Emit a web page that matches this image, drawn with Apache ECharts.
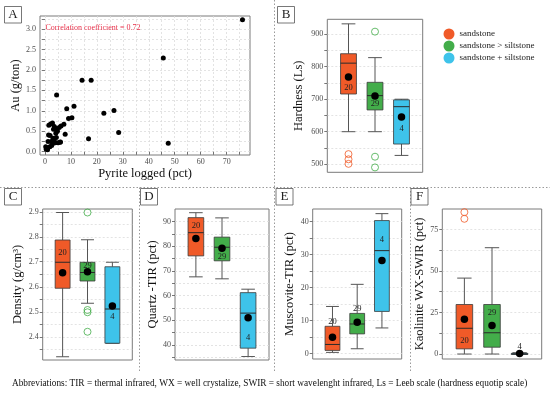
<!DOCTYPE html>
<html><head><meta charset="utf-8">
<script src="https://cdn.jsdelivr.net/npm/echarts@6/dist/echarts.min.js"></script>
<style>html,body{margin:0;padding:0;background:#fff}#c{width:550px;height:395px}</style>
</head><body><div id="c"></div><script>
const SERIF = 'Liberation Serif';
const groups = ['sandstone', 'sandstone > siltstone', 'sandstone + siltstone'];
const groupColors = ['#f05a28', '#43ad4a', '#3ec3ea'];

// Panel A: Au vs pyrite
const pyrite = [0.3,0.5,0.8,1.0,1.2,1.4,1.5,1.9,2.0,2.2,2.4,2.6,2.9,3.0,3.1,3.3,3.5,3.6,3.9,4.0,4.2,4.4,4.5,4.6,4.8,5.0,5.5,5.8,6.0,6.2,7.3,7.8,8.4,9.1,10.4,11.2,14.3,16.8,17.8,22.7,26.6,28.4,45.6,47.5,76.1];
const au     = [0.12,0.06,0.10,0.05,0.25,0.41,0.65,0.12,0.40,0.68,0.25,0.15,0.70,0.20,0.33,0.55,0.28,0.62,0.58,0.22,0.45,0.35,1.39,0.52,0.50,0.22,0.59,0.23,0.24,0.63,0.67,0.43,1.05,0.81,0.83,1.11,1.75,0.32,1.75,0.94,1.01,0.47,2.29,0.21,3.23];
const corrText = 'Correlation coefficient = 0.72';
const aXMajor = [0,10,20,30,40,50,60,70];
const aXMinor = [5,15,25,35,45,55,65,75];
const aYMajor = [0,0.5,1,1.5,2,2.5,3];
const aYMinor = [0.25,0.75,1.25,1.75,2.25,2.75,3.25];

// Box panels: [min, q1, median, q3, max] per lithology
const hardnessBox = [[600,716,811,840,932],[600,667,711,752,828],[527,562,677,698,700]];
const hardnessMean = [768,710,645];
const hardnessOut = [[531,515,501],[908,523,490],[]];
const hardnessN = [20,29,4];
const hardnessNAt = [734,686,608];
const hardnessMajor = [500,600,700,800,900];
const hardnessMinor = [550,650,750,850];

const densityBox = [[2.32,2.594,2.698,2.787,2.897],[2.534,2.623,2.657,2.698,2.788],[2.374,2.374,2.511,2.68,2.698]];
const densityMean = [2.656,2.66,2.523];
const densityOut = [[],[2.897,2.507,2.498,2.42],[]];
const densityN = [20,29,4];
const densityNAt = [2.736,2.683,2.48];
const densityMajor = [2.4,2.5,2.6,2.7,2.8,2.9];
const densityMinor = [2.35,2.45,2.55,2.65,2.75,2.85];

const quartzBox = [[67.6,76.1,85.5,91.6,93.6],[66.8,74.1,79.6,83.7,91.5],[35.3,38.7,52.9,61.2,62.6]];
const quartzMean = [83.1,79.2,51.0];
const quartzOut = [[],[],[]];
const quartzN = [20,29,4];
const quartzNAt = [88.4,75.8,43.0];
const quartzMajor = [40,50,60,70,80,90];
const quartzMinor = [35,45,55,65,75,85];

const muscoviteBox = [[0.4,1.0,2.8,8.3,14.3],[1.5,6.0,9.0,12.2,21.0],[7.8,12.8,31.2,40.3,42.4]];
const muscoviteMean = [5.0,9.5,28.2];
const muscoviteOut = [[],[],[]];
const muscoviteN = [20,29,4];
const muscoviteNAt = [9.7,13.5,34.4];
const muscoviteMajor = [0,10,20,30,40];
const muscoviteMinor = [5,15,25,35];

const kaoliniteBox = [[0,3.1,15.5,29.8,45.7],[0,4.1,12.8,29.8,64],[0,0,0,0.4,0.8]];
const kaoliniteMean = [21.0,17.2,0.3];
const kaoliniteOut = [[81.4,85.4],[],[]];
const kaoliniteN = [20,29,4];
const kaoliniteNAt = [7.7,24.6,4.1];
const kaoliniteMajor = [0,25,50,75];
const kaoliniteMinor = [12.5,37.5,62.5];

const grids = [
  {left:40, top:16, width:210, height:139},
  {left:327.3, top:19.3, width:95.4, height:153},
  {left:42.7, top:209, width:89.6, height:151},
  {left:175, top:209, width:94, height:151},
  {left:312.7, top:209, width:89, height:150},
  {left:442.3, top:209, width:99.4, height:150}
].map(g => Object.assign(g, {show:true, borderColor:'#7a7a7a', borderWidth:1, backgroundColor:'#fff', containLabel:false, outerBoundsMode:'none'}));

const tickLabel = {fontFamily:SERIF, fontSize:8, color:'#4d4d4d', margin:4};
const nameStyle = {fontFamily:SERIF, fontSize:12.5, color:'#111'};
const splitLine = {show:true, lineStyle:{color:'#dcdcdc', type:[2,2], width:0.8}};

function yAxisCfg(gi, min, max, majors, minors, name, gap, dec) {
  return {gridIndex:gi, type:'value', min, max, name, nameLocation:'middle', nameGap:gap, nameTextStyle:nameStyle,
    axisLine:{show:false},
    axisTick:{show:true, customValues:majors.concat(minors), length:3, lineStyle:{color:'#555', width:0.8}},
    axisLabel:Object.assign({customValues:majors, formatter:v => v.toFixed(dec)}, tickLabel),
    splitLine};
}
function xHidden(gi) {
  return {gridIndex:gi, type:'value', min:0.2, max:3.8, show:false, splitLine:{show:false}};
}

const xAxes = [
  {gridIndex:0, type:'value', min:-1.9, max:79, name:'Pyrite logged (pct)', nameLocation:'middle', nameGap:11, nameTextStyle:nameStyle,
    axisLine:{show:false},
    axisTick:{show:true, customValues:aXMajor.concat(aXMinor), length:3, lineStyle:{color:'#555', width:0.8}},
    axisLabel:Object.assign({customValues:aXMajor}, tickLabel, {margin:3}),
    splitLine},
  xHidden(1), xHidden(2), xHidden(3), xHidden(4), xHidden(5)
];
const yAxes = [
  yAxisCfg(0, -0.08, 3.32, aYMajor, aYMinor, 'Au (g/ton)', 18, 1),
  yAxisCfg(1, 475, 946, hardnessMajor, hardnessMinor, 'Hardness (Ls)', 22, 0),
  yAxisCfg(2, 2.307, 2.911, densityMajor, densityMinor, 'Density (g/cm\u00B3)', 18, 1),
  yAxisCfg(3, 33.9, 95.1, quartzMajor, quartzMinor, 'Quartz -TIR (pct)', 15, 0),
  yAxisCfg(4, -1.6, 43.8, muscoviteMajor, muscoviteMinor, 'Muscovite-TIR (pct)', 16, 0),
  yAxisCfg(5, -3, 87.3, kaoliniteMajor, kaoliniteMinor, 'Kaolinite WX-SWIR (pct)', 13, 0)
];

function boxRender(params, api) {
  const x = api.value(0);
  const pMin = api.coord([x, api.value(1)]);
  const pQ1 = api.coord([x, api.value(2)]);
  const pMed = api.coord([x, api.value(3)]);
  const pQ3 = api.coord([x, api.value(4)]);
  const pMax = api.coord([x, api.value(5)]);
  const w = api.size([0.6, 0])[0];
  const cw = api.size([0.52, 0])[0];
  const cx = pMin[0];
  const ls = {stroke:'#555', lineWidth:1};
  return {type:'group', children:[
    {type:'line', shape:{x1:cx, y1:pMax[1], x2:cx, y2:pQ3[1]}, style:ls},
    {type:'line', shape:{x1:cx, y1:pQ1[1], x2:cx, y2:pMin[1]}, style:ls},
    {type:'line', shape:{x1:cx-cw/2, y1:pMax[1], x2:cx+cw/2, y2:pMax[1]}, style:ls},
    {type:'line', shape:{x1:cx-cw/2, y1:pMin[1], x2:cx+cw/2, y2:pMin[1]}, style:ls},
    {type:'rect', shape:{x:cx-w/2, y:pQ3[1], width:w, height:Math.max(pQ1[1]-pQ3[1], 1)}, style:{fill:api.visual('color'), stroke:'#3a3a3a', lineWidth:0.8}},
    {type:'line', shape:{x1:cx-w/2, y1:pMed[1], x2:cx+w/2, y2:pMed[1]}, style:{stroke:'#2a2a2a', lineWidth:1}}
  ]};
}
function textRender(params, api) {
  const p = api.coord([api.value(0), api.value(1)]);
  return {type:'text', x:p[0], y:p[1], style:{text:String(api.value(2)), textAlign:'center', textVerticalAlign:'middle', font:'8.5px "Liberation Serif"', fill:'#222'}, z2:10};
}

const series = [];
series.push({type:'scatter', xAxisIndex:0, yAxisIndex:0, name:'Au', data:pyrite.map((p,i)=>[p, au[i]]), symbolSize:5, itemStyle:{color:'#000', opacity:1}, silent:true});

const boxPanels = [
  [1, hardnessBox, hardnessMean, hardnessOut, hardnessN, hardnessNAt],
  [2, densityBox, densityMean, densityOut, densityN, densityNAt],
  [3, quartzBox, quartzMean, quartzOut, quartzN, quartzNAt],
  [4, muscoviteBox, muscoviteMean, muscoviteOut, muscoviteN, muscoviteNAt],
  [5, kaoliniteBox, kaoliniteMean, kaoliniteOut, kaoliniteN, kaoliniteNAt]
];
boxPanels.forEach(([gi, box, mean, out, n, nAt]) => {
  groups.forEach((g, k) => {
    series.push({type:'custom', name:g, xAxisIndex:gi, yAxisIndex:gi, renderItem:boxRender,
      itemStyle:{color:groupColors[k]}, encode:{x:0, y:[1,2,3,4,5]},
      data:[[k+1].concat(box[k])], silent:true, z:2});
    if (out[k].length) {
      series.push({type:'scatter', name:'outlier'+k, xAxisIndex:gi, yAxisIndex:gi, symbol:'circle', symbolSize:7,
        itemStyle:{color:'rgba(0,0,0,0)', borderColor:groupColors[k], borderWidth:1},
        data:out[k].map(v => [k+1, v]), silent:true, z:3});
    }
  });
  series.push({type:'scatter', name:'mean', xAxisIndex:gi, yAxisIndex:gi, symbolSize:7.5, itemStyle:{color:'#000', opacity:1},
    data:mean.map((v,k) => [k+1, v]), silent:true, z:4});
  series.push({type:'custom', name:'n', xAxisIndex:gi, yAxisIndex:gi, renderItem:textRender,
    data:nAt.map((v,k) => [k+1, v, n[k]]), silent:true, z:5});
});

function panelBox(letter, x, y) {
  return {type:'group', x, y, children:[
    {type:'rect', shape:{x:0, y:0, width:17, height:16.5}, style:{fill:'#fff', stroke:'#555', lineWidth:0.8}},
    {type:'text', x:8.5, y:8.5, style:{text:letter, textAlign:'center', textVerticalAlign:'middle', font:'13px "Liberation Serif"', fill:'#222'}}
  ]};
}
const dotted = {stroke:'#9a9a9a', lineWidth:1, lineDash:[1.5,2]};
const graphic = [
  {type:'line', shape:{x1:0, y1:187.5, x2:550, y2:187.5}, style:dotted, silent:true},
  {type:'line', shape:{x1:274.5, y1:0, x2:274.5, y2:187.5}, style:dotted, silent:true},
  {type:'line', shape:{x1:139.5, y1:187.5, x2:139.5, y2:372}, style:dotted, silent:true},
  {type:'line', shape:{x1:274.5, y1:187.5, x2:274.5, y2:372}, style:dotted, silent:true},
  {type:'line', shape:{x1:410.5, y1:187.5, x2:410.5, y2:372}, style:dotted, silent:true},
  panelBox('A', 4.5, 6.5), panelBox('B', 277.5, 6.5),
  panelBox('C', 4.5, 188.5), panelBox('D', 140.5, 188.5), panelBox('E', 276, 188.5), panelBox('F', 411, 188.5),
  {type:'text', x:45.5, y:27.5, style:{text:corrText, textVerticalAlign:'middle', font:'8px "Liberation Serif"', fill:'#e8314a'}, z:10},
  {type:'text', x:12, y:384, style:{text:'Abbreviations: TIR = thermal infrared, WX = well crystalize, SWIR = short wavelenght infrared, Ls = Leeb scale (hardness equotip scale)', textVerticalAlign:'middle', font:'9.3px "Liberation Serif"', fill:'#111'}}
];

const chart = echarts.init(document.getElementById('c'), null, {renderer:'canvas'});
chart.setOption({
  animation:false,
  backgroundColor:'#fff',
  grid:grids, xAxis:xAxes, yAxis:yAxes, series, graphic,
  legend:{data:groups, orient:'vertical', left:438.5, top:23.5, itemWidth:11, itemHeight:11, itemGap:1, icon:'circle', selectedMode:false,
    textStyle:{fontFamily:SERIF, fontSize:9, color:'#222'}}
});
</script></body></html>
